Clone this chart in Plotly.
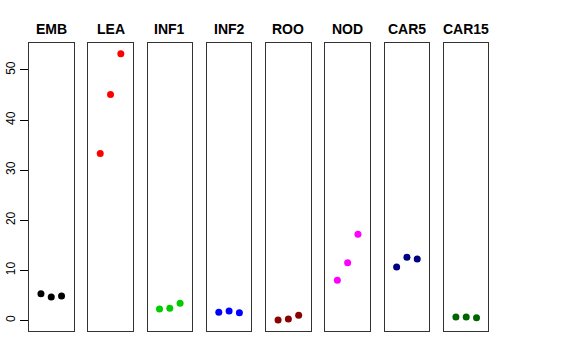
import plotly.graph_objects as go

categories = ["EMB", "LEA", "INF1", "INF2", "ROO", "NOD", "CAR5", "CAR15"]
colors = ["#000000", "#FF0000", "#00CD00", "#0000FF", "#8B0000", "#FF00FF", "#000080", "#006400"]
positions = [1, 2, 3]
values = {
    "EMB": [5.33, 4.67, 4.87],
    "LEA": [33.3, 45.1, 53.25],
    "INF1": [2.27, 2.4, 3.4],
    "INF2": [1.6, 1.87, 1.53],
    "ROO": [0.07, 0.27, 1.0],
    "NOD": [8.0, 11.5, 17.2],
    "CAR5": [10.67, 12.6, 12.27],
    "CAR15": [0.67, 0.67, 0.53],
}
y_ticks = [0, 10, 20, 30, 40, 50]

W, H = 576, 360
left0, pw, step = 29.0, 44.5, 59.28
ytop, ybot = 43.0, 331.0
ymin, ymax = 0.0, 53.25
pad = 0.04 * (ymax - ymin)
yrange = [ymin - pad, ymax + pad]
xrange = [-0.16, 4.16]

fig = go.Figure()
layout = {}
for i, cat in enumerate(categories):
    n = "" if i == 0 else str(i + 1)
    fig.add_trace(go.Scatter(
        x=positions, y=values[cat], mode="markers",
        marker=dict(color=colors[i], size=7, line=dict(width=0)),
        xaxis="x" + n, yaxis="y" + n, showlegend=False,
    ))
    x0 = left0 + i * step
    x1 = x0 + pw
    layout["xaxis" + n] = dict(
        domain=[x0 / W, x1 / W], range=xrange, showline=True, mirror=True,
        linecolor="#333333", linewidth=1, showgrid=False, zeroline=False,
        showticklabels=False, ticks="", anchor="y" + n, fixedrange=True,
    )
    ya = dict(
        domain=[1 - ybot / H, 1 - ytop / H], range=yrange, showline=True, mirror=True,
        linecolor="#333333", linewidth=1, showgrid=False, zeroline=False,
        anchor="x" + n, fixedrange=True,
    )
    if i == 0:
        ya.update(tickmode="array", tickvals=y_ticks, ticktext=[str(t) for t in y_ticks],
                  ticks="outside", ticklen=8, tickcolor="#000000", tickwidth=1,
                  tickangle=-90, tickfont=dict(family="Liberation Sans", size=12, color="#000000"))
    else:
        ya.update(showticklabels=False, ticks="")
    layout["yaxis" + n] = ya
    fig.add_annotation(
        x=(x0 + x1) / 2 / W, y=1 - 29 / H, xref="paper", yref="paper",
        text="<b>" + cat + "</b>", showarrow=False, xanchor="center", yanchor="middle",
        font=dict(family="Liberation Sans", size=14, color="#000000"),
    )

fig.update_layout(
    width=W, height=H, margin=dict(l=0, r=0, t=0, b=0),
    paper_bgcolor="white", plot_bgcolor="white", hovermode=False, **layout,
)
fig.write_html(
    "out.html",
    config={"displayModeBar": False, "staticPlot": True},
    post_script="document.body.style.margin='0';document.body.style.overflow='hidden';",
)
